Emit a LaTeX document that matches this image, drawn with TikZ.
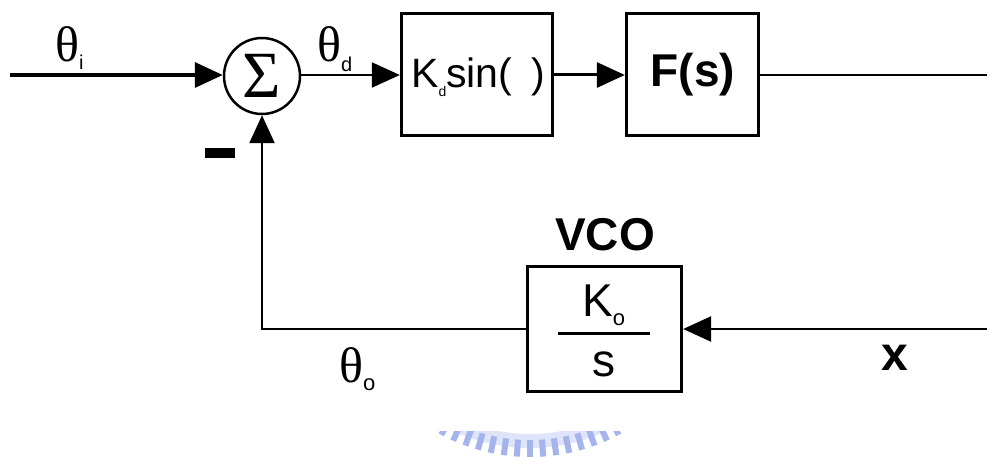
\documentclass[tikz,border=0pt]{standalone}
\usepackage{fontspec}
\setmainfont{Liberation Sans}
\newfontfamily\tms{Liberation Serif}
\newfontfamily\arial{Liberation Sans}
\usetikzlibrary{arrows.meta,calc}
\definecolor{wm}{RGB}{165,180,235}
\definecolor{wmpale}{RGB}{222,228,250}
\begin{document}
\begin{tikzpicture}[x=1pt,y=-1pt,
  blk/.style={draw,line width=3.3pt,minimum width=#1,minimum height=122pt,inner sep=0pt},
  arr/.style={-{Triangle[length=28pt,width=25pt]}},
  txt/.style={inner sep=0pt,anchor=base},
  big/.style={font=\fontsize{41}{41}\selectfont},
  thl/.style={inner sep=0pt,anchor=base west,font=\tms\fontsize{50}{50}\selectfont}
]
\useasboundingbox (0,0) rectangle (987,457);

% watermark
\begin{scope}
\clip (420,431) rectangle (660,457);
\fill[wmpale,even odd rule] (530,268) circle (180) (530,268) circle (166);
\foreach \a in {-28,-24,...,28}
  \draw[wm,line width=6pt] ({530+172*sin(\a)},{268+172*cos(\a)}) -- ({530+189*sin(\a)},{268+189*cos(\a)});
\end{scope}

% blocks
\node[draw,circle,line width=2.5pt,minimum size=76pt,inner sep=0pt] (sum) at (262,76)
  {\raisebox{-4pt}{\tms\fontsize{66}{66}\selectfont Σ}};
\node[blk=151pt] (kd) at (477,74.5) {};
\node[blk=132pt] (fs) at (692.5,74.5) {};
\node[blk=154pt,minimum height=125pt] (vco) at (604.5,329) {};

% block texts
\node[txt,anchor=base west,big] (kdt) at (411,88)
  {K\raisebox{-9pt}{\fontsize{14}{14}\selectfont d}sin(\hspace{19pt})};
\node[txt,font=\bfseries\fontsize{46}{46}\selectfont] (fst) at (693,87) {F(s)};
\node[txt,font=\bfseries\fontsize{46}{46}\selectfont] (vcol) at (605,250) {VCO};
\node[txt,anchor=base west,font=\fontsize{46}{46}\selectfont] (ko) at (582,316)
  {K\raisebox{-9pt}{\fontsize{22}{22}\selectfont o}};
\node[txt,font=\fontsize{46}{46}\selectfont] (so) at (604,376) {s};
\coordinate (barl) at ($(vco.center)+(-46.5,4)$);
\coordinate (barr) at ($(vco.center)+(45.5,4)$);
\draw[line width=3pt] (barl) -- (barr);

% signal labels
\node[thl] (thi) at (55,62) {θ\raisebox{-8pt}{\arial\fontsize{20}{20}\selectfont i}};
\node[thl] (thd) at (317,62) {θ\raisebox{-10pt}{\arial\fontsize{20}{20}\selectfont d}};
\node[thl] (tho) at (339,382) {θ\raisebox{-8pt}{\arial\fontsize{22}{22}\selectfont o}};
\node[txt,font=\bfseries\fontsize{48}{48}\selectfont] (xl) at (895,370) {x};
\node[fill=black,minimum width=30pt,minimum height=10pt,inner sep=0pt] (minus) at (220,153) {};

% connectors
\coordinate (in) at (10,75);
\coordinate (out) at (987,75);
\coordinate (xin) at (987,329);
\draw[arr,line width=3.5pt] (in) -- (in -| sum.west);
\draw[arr,line width=2pt] (sum.east |- in) -- (kd.west |- in);
\draw[arr,line width=3pt] (kd.east |- in) -- (fs.west |- in);
\draw[line width=2.5pt] (fs.east |- in) -- (out);
\draw[arr,line width=2.5pt] (xin) -- (vco.east);
\draw[arr,line width=2.5pt] (vco.west) -| (sum.south);
\end{tikzpicture}
\end{document}
